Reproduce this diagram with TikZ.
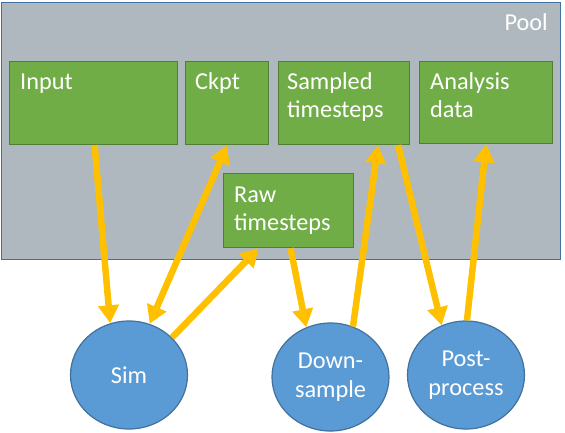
\documentclass[tikz,border=0pt]{standalone}
\usepackage{fontspec}
\setmainfont{Carlito}
\usetikzlibrary{shapes.geometric,arrows.meta}
\definecolor{poolfill}{RGB}{176,184,191}
\definecolor{poolline}{RGB}{65,113,156}
\definecolor{boxfill}{RGB}{112,173,71}
\definecolor{boxline}{RGB}{80,126,50}
\definecolor{procfill}{RGB}{91,155,213}
\definecolor{procline}{RGB}{65,113,156}
\definecolor{flow}{RGB}{255,192,0}
\begin{document}
\begin{tikzpicture}[x=1pt,y=-1pt,
  poolbox/.style={draw=poolline,fill=poolfill,line width=1.2pt,anchor=north west,inner sep=0pt},
  databox/.style={draw=boxline,fill=boxfill,line width=1.2pt,anchor=north west,inner sep=0pt},
  proc/.style={ellipse,draw=procline,fill=procfill,line width=1.2pt,minimum width=117pt,minimum height=108pt,inner sep=0pt,text=white,font=\fontsize{24.3}{28.5}\selectfont,align=center},
  lbl/.style={text=white,font=\fontsize{24.3}{28.5}\selectfont,inner sep=0pt,align=left,anchor=base west},
  flowarrow/.style={draw=flow,line width=6.5pt,-{Triangle[width=20pt,length=18pt]}},
  flowboth/.style={draw=flow,line width=6.5pt,{Triangle[width=20pt,length=18pt]}-{Triangle[width=20pt,length=18pt]}}
]
\useasboundingbox (0,0) rectangle (565,432);
\node[poolbox,minimum width=559pt,minimum height=257pt] (pool) at (1,2) {};
\node[lbl,anchor=base east] (poolT) at (548,30) {Pool};

\node[databox,minimum width=168pt,minimum height=83pt] (input) at (9,61) {};
\node[databox,minimum width=83pt,minimum height=83pt] (ckpt) at (185,61) {};
\node[databox,minimum width=131pt,minimum height=83pt] (sampled) at (278,61) {};
\node[databox,minimum width=133pt,minimum height=82pt] (analysis) at (419,61) {};
\node[databox,minimum width=130pt,minimum height=74pt] (raw) at (223,173) {};

\node[lbl] (inputT) at ([shift={(11,28)}]input.north west) {Input};
\node[lbl] (ckptT) at ([shift={(10,28)}]ckpt.north west) {Ckpt};
\node[lbl,text width=125pt] (sampledT) at ([shift={(9,28)}]sampled.north west) {Sampled\\timesteps};
\node[lbl,text width=125pt] (analysisT) at ([shift={(11,28)}]analysis.north west) {Analysis\\data};
\node[lbl,text width=125pt] (rawT) at ([shift={(11,29)}]raw.north west) {Raw\\timesteps};

\node[proc] (sim) at (129,375) {Sim};
\node[proc] (down) at (330.5,377) {Down-\\sample};
\node[proc] (post) at (466,375) {Post-\\process};

\draw[flowarrow] ([xshift=1pt]input.south) -- (sim.110);
\draw[flowboth] (sim.68) -- (ckpt.south);
\draw[flowarrow] (sim.41) -- ([xshift=-30pt]raw.south);
\draw[flowarrow] ([xshift=2pt]raw.south) -- (down.116);
\draw[flowarrow] (down.66) -- ([xshift=34pt]sampled.south);
\draw[flowarrow] ([xshift=54pt]sampled.south) -- (post.116);
\draw[flowarrow] (post.89) -- (analysis.south);
\end{tikzpicture}
\end{document}
